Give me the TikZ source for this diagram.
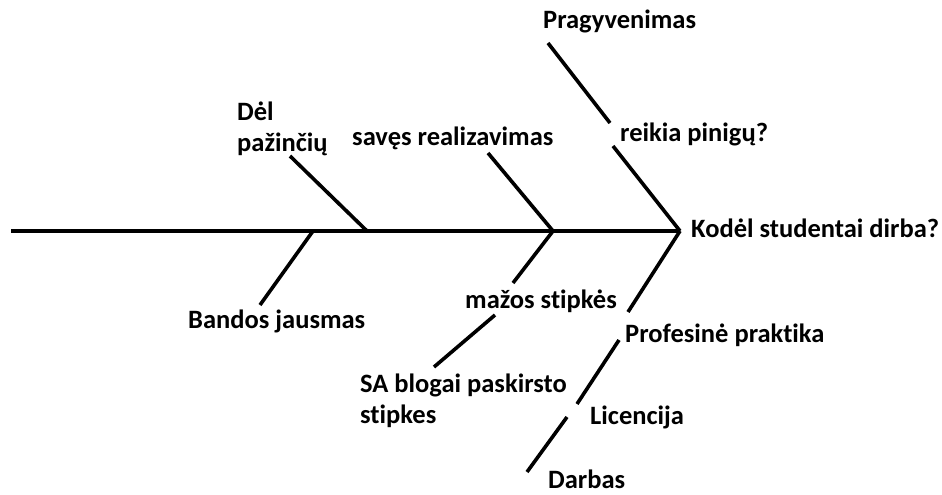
\documentclass[tikz,border=0pt]{standalone}
\usepackage{fontspec}
\setmainfont{Carlito}[Ligatures=NoCommon]
\usetikzlibrary{calc}
\tikzset{
  bone/.style={line width=3.6pt},
  lbl/.style={anchor=base west, inner sep=0pt, align=left,
    font=\fontsize{26.5}{31}\selectfont\bfseries}
}

\begin{document}
\begin{tikzpicture}[x=1pt,y=-1pt]
  \useasboundingbox (0,0) rectangle (942,495);

  % spine and its joints
  \coordinate (T) at (11,231);
  \coordinate (H) at (680,231);
  \coordinate (J0) at (313,231);
  \coordinate (J1) at (367,231);
  \coordinate (J2) at (553,231);
  \draw[bone] (T) -- (H);

  % labels (two-line ones sit on their last line)
  \node[lbl] (kodel) at (691,237) {Kodėl studentai dirba?};
  \node[lbl] (prag) at (543,29) {Pragyvenimas};
  \node[lbl] (pinigu) at (620,141) {reikia pinigų?};
  \node[lbl] (del) at (237,151) {Dėl\\pažinčių};
  \node[lbl] (saves) at (352,145) {savęs realizavimas};
  \node[lbl] (bandos) at (188,328) {Bandos jausmas};
  \node[lbl] (mazos) at (465,308) {mažos stipkės};
  \node[lbl] (sa) at (360,423) {SA blogai paskirsto\\stipkes};
  \node[lbl] (prof) at (625,342) {Profesinė praktika};
  \node[lbl] (lic) at (590,424) {Licencija};
  \node[lbl] (darbas) at (548,488) {Darbas};

  % bone ends
  \coordinate (P1) at (548,43);
  \coordinate (P2) at (610,123);
  \coordinate (P3) at (613,146);
  \coordinate (D1) at (290,156);
  \coordinate (B1) at (260,305);
  \coordinate (S1) at (488,153);
  \coordinate (M1) at (513,283);
  \coordinate (M2) at (495,315);
  \coordinate (M3) at (434,367);
  \coordinate (R1) at (628,312);
  \coordinate (R2) at (619,340);
  \coordinate (R3) at (577,404);
  \coordinate (R4) at (567,417);
  \coordinate (R5) at (527,472);

  % upper bones
  \draw[bone] (P1) -- (P2);
  \draw[bone] (P3) -- (H);
  \draw[bone] (D1) -- (J1);
  \draw[bone] (S1) -- (J2);

  % lower bones
  \draw[bone] (J0) -- (B1);
  \draw[bone] (J2) -- (M1);
  \draw[bone] (M2) -- (M3);
  \draw[bone] (H) -- (R1);
  \draw[bone] (R2) -- (R3);
  \draw[bone] (R4) -- (R5);
\end{tikzpicture}
\end{document}
